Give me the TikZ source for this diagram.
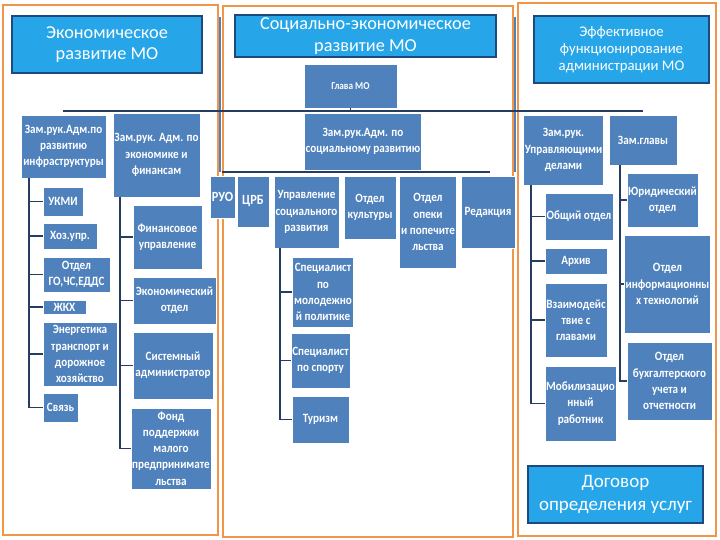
\documentclass[tikz,border=0pt]{standalone}
\usepackage{fontspec}
\setmainfont{Carlito}
\newfontfamily\unitfont{Carlito}[FakeStretch=0.88]
\usetikzlibrary{positioning}
\definecolor{headcolor}{RGB}{38,166,232}
\definecolor{headborder}{RGB}{31,73,125}
\definecolor{unitcolor}{RGB}{79,129,189}
\definecolor{linkcolor}{RGB}{38,60,96}
\definecolor{framecolor}{RGB}{240,150,75}

\begin{document}
\begin{tikzpicture}[
    x=0.25mm, y=-0.25mm,
    headnode/.style={rectangle, draw=headborder, fill=headcolor, thick, text=white, align=center, inner sep=1pt, font=\fontsize{13}{15.5}\selectfont},
    unitnode/.style={rectangle, draw=white, fill=unitcolor, line width=0.4pt, text=white, align=center, inner sep=1pt, font=\unitfont\bfseries\fontsize{9}{11.5}\selectfont},
    framebox/.style={draw=framecolor, line width=2pt},
    framebar/.style={draw=unitcolor, line width=1.6pt},
    busline/.style={draw=linkcolor, line width=1.8pt},
    linkline/.style={draw=linkcolor, line width=1.3pt}
]
\fill[white] (0,0) rectangle (720,540);
\useasboundingbox (0,0) rectangle (720,540);

% Three zones
\draw[framebox] (3,5) rectangle (218,535);
\draw[framebox] (223,6) rectangle (513,537);
\draw[framebox] (518,3) rectangle (716,536);
\coordinate (barA1) at (220,17);
\coordinate (barA2) at (220,172);
\coordinate (barB1) at (515,17);
\coordinate (barB2) at (515,172);
\draw[framebar] (barA1) -- (barA2);
\draw[framebar] (barB1) -- (barB2);

% Zone headers
\node[headnode, minimum width=47.5mm, minimum height=14.25mm] (hdrecon) at (107,44.5) {Экономическое\\развитие МО};
\node[headnode, minimum width=65.25mm, minimum height=10.5mm] (hdrsoc) at (365.5,36) {Социально-экономическое\\развитие МО};
\node[headnode, minimum width=43.75mm, minimum height=16.75mm, font=\fontsize{10.5}{12}\selectfont] (hdradm) at (621.5,49.5) {Эффективное\\функционирование\\администрации МО};
\node[headnode, minimum width=43.75mm, minimum height=14.25mm, font=\fontsize{13.5}{16.5}\selectfont] (hdrdog) at (615.5,494.5) {Договор\\определения услуг};

% Top level
\node[unitnode, minimum width=23.25mm, minimum height=11mm, font=\unitfont\bfseries\fontsize{7.5}{9}\selectfont] (glava) at (350.5,86) {Глава МО};
\coordinate (busL) at (63,111);
\coordinate (busR) at (643,111);
\draw[busline] (busL) -- (busR);
\draw[linkline] (glava.south) -- (glava.south |- busL);

% Deputies
\node[unitnode, minimum width=21.25mm, minimum height=15.75mm] (infra) at (63.5,146.5) {Зам.рук.Адм.по\\развитию\\инфраструктуры};
\node[unitnode, minimum width=20.25mm, minimum height=21mm] (econ) at (156.5,155) {Зам.рук. Адм. по\\экономике и\\финансам};
\node[unitnode, minimum width=28mm, minimum height=14.25mm] (soc) at (363,141.5) {Зам.рук.Адм. по\\социальному развитию};
\node[unitnode, minimum width=19.75mm, minimum height=17.5mm] (delami) at (563.5,150) {Зам.рук.\\Управляющими\\делами};
\node[unitnode, minimum width=17mm, minimum height=12.5mm] (zamgl) at (643,140) {Зам.главы};

% Left zone: infrastructure
\node[unitnode, minimum width=10mm, minimum height=7.25mm] (ukmi) at (63,201.5) {УКМИ};
\node[unitnode, minimum width=13.5mm, minimum height=6.5mm] (hoz) at (70,236) {Хоз.упр.};
\node[unitnode, minimum width=16.75mm, minimum height=8.75mm] (gochs) at (76.5,274.5) {Отдел\\ГО,ЧС,ЕДДС};
\node[unitnode, minimum width=10.75mm, minimum height=3.5mm] (zhkh) at (64.5,307) {ЖКХ};
\node[unitnode, minimum width=18.5mm, minimum height=16mm] (energ) at (80,354) {Энергетика\\транспорт и\\дорожное\\хозяйство};
\node[unitnode, minimum width=8.75mm, minimum height=7.25mm] (svyaz) at (60.5,407.5) {Связь};
\draw[linkline] ([xshift=2mm]infra.south west) |- (svyaz.west);
\foreach \u in {ukmi,hoz,gochs,zhkh,energ}
    \draw[linkline] ([xshift=2mm]infra.south west |- \u.west) -- (\u.west);

% Left zone: economy
\node[unitnode, minimum width=17.25mm, minimum height=16mm] (finupr) at (167.5,237) {Финансовое\\управление};
\node[unitnode, minimum width=20.75mm, minimum height=11.75mm] (ekotd) at (174.5,300.5) {Экономический\\отдел};
\node[unitnode, minimum width=20mm, minimum height=16.75mm] (sysadm) at (173,365.5) {Системный\\администратор};
\node[unitnode, minimum width=19mm, minimum height=20.25mm] (fond) at (171,448.5) {Фонд\\поддержки\\малого\\предпринимате\\льства};
\draw[linkline] ([xshift=1.75mm]econ.south west) |- (fond.west);
\foreach \u in {finupr,ekotd,sysadm}
    \draw[linkline] ([xshift=1.75mm]econ.south west |- \u.west) -- (\u.west);

% Middle zone
\coordinate (sbusL) at (222,172);
\coordinate (sbusR) at (490,172);
\draw[busline] (sbusL) -- (sbusR);
\node[unitnode, minimum width=6.25mm, minimum height=10.5mm, font=\unitfont\bfseries\fontsize{10}{12}\selectfont] (ruo) at (222.5,197) {РУО};
\node[unitnode, minimum width=8mm, minimum height=12.75mm, font=\unitfont\bfseries\fontsize{10}{12}\selectfont] (crb) at (253,201.5) {ЦРБ};
\node[unitnode, minimum width=15.75mm, minimum height=18mm] (usr) at (306.5,212) {Управление\\социального\\развития};
\node[unitnode, minimum width=13mm, minimum height=15.75mm] (kult) at (370,207.5) {Отдел\\культуры};
\node[unitnode, minimum width=14mm, minimum height=23mm] (opeka) at (428,222) {Отдел\\опеки\\и попечите\\льства};
\node[unitnode, minimum width=13.5mm, minimum height=18mm] (red) at (488,212) {Редакция};

\node[unitnode, minimum width=15mm, minimum height=17.5mm] (molod) at (323,292) {Специалист\\по\\молодежно\\й политике};
\node[unitnode, minimum width=14.25mm, minimum height=13.75mm] (sport) at (320.5,360.5) {Специалист\\по спорту};
\node[unitnode, minimum width=14.25mm, minimum height=11.75mm] (turizm) at (320.5,419.5) {Туризм};
\draw[linkline] ([xshift=1.5mm]usr.south west) |- (turizm.west);
\foreach \u in {molod,sport}
    \draw[linkline] ([xshift=1.5mm]usr.south west |- \u.west) -- (\u.west);

% Right zone: administration
\node[unitnode, minimum width=17mm, minimum height=11.75mm] (obsh) at (579,216.5) {Общий отдел};
\node[unitnode, minimum width=15.5mm, minimum height=6.5mm] (arhiv) at (576,261) {Архив};
\node[unitnode, minimum width=15.5mm, minimum height=18.5mm] (vzaim) at (576,320) {Взаимодейс\\твие с\\главами};
\node[unitnode, minimum width=17.75mm, minimum height=18.75mm] (mobil) at (580.5,403.5) {Мобилизацио\\нный\\работник};
\draw[linkline] ([xshift=2mm]delami.south west) |- (mobil.west);
\foreach \u in {obsh,arhiv,vzaim}
    \draw[linkline] ([xshift=2mm]delami.south west |- \u.west) -- (\u.west);

\node[unitnode, minimum width=17.75mm, minimum height=13.5mm] (yurid) at (662.5,200) {Юридический\\отдел};
\node[unitnode, minimum width=20.25mm, minimum height=24.5mm] (infotech) at (667.5,284) {Отдел\\информационны\\х технологий};
\node[unitnode, minimum width=21.25mm, minimum height=19.5mm] (buh) at (669.5,381) {Отдел\\бухгалтерского\\учета и\\отчетности};
\draw[linkline] ([xshift=2.75mm]zamgl.south west) |- (buh.west);
\foreach \u in {yurid,infotech}
    \draw[linkline] ([xshift=2.75mm]zamgl.south west |- \u.west) -- (\u.west);

\end{tikzpicture}
\end{document}
